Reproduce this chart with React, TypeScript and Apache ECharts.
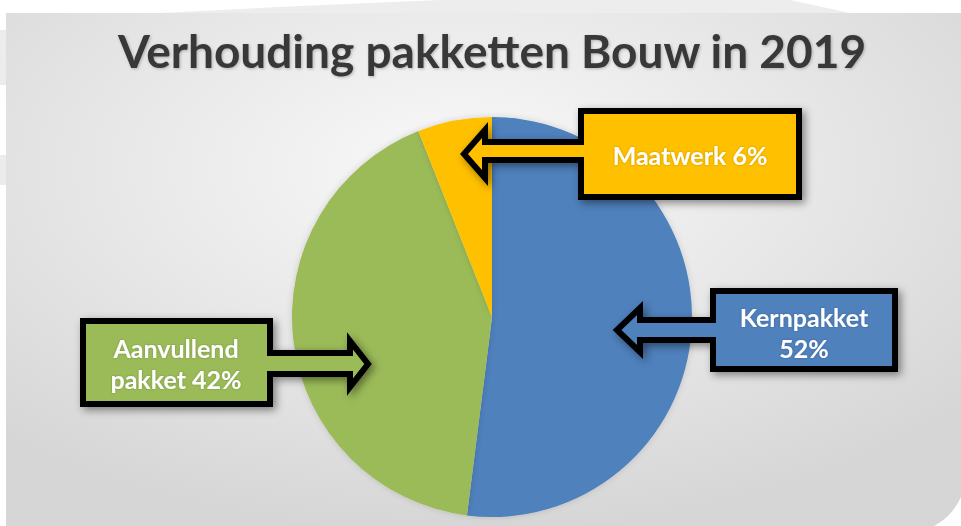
import React, { useEffect, useRef } from "react";
import * as echarts from "echarts";

const TITLE = "Verhouding pakketten Bouw in 2019";
const categories = ["Kernpakket", "Aanvullend pakket", "Maatwerk"];
const values = [52, 42, 6];
const colors = ["#4f81bd", "#9bbb59", "#ffc000"];
const calloutLines = [
  ["Kernpakket", "52%"],
  ["Aanvullend", "pakket 42%"],
  ["Maatwerk 6%"],
];

const FONT = "Lato, 'Open Sans', sans-serif";

export default function App() {
  const ref = useRef<HTMLDivElement>(null);
  useEffect(() => {
    if (!ref.current) return;
    const chart = echarts.init(ref.current, null, { renderer: "svg" });

    const shadow = {
      shadowBlur: 8,
      shadowColor: "rgba(0,0,0,0.45)",
      shadowOffsetX: 3,
      shadowOffsetY: 3,
    };

    const callouts = [
      {
        idx: 0,
        points: [[713, 291], [895, 291], [895, 369], [713, 369], [713, 340], [640, 340], [640, 352], [617, 330], [640, 308], [640, 320], [713, 320]],
        cx: 804, cy: 332,
      },
      {
        idx: 1,
        points: [[83, 321], [270, 321], [270, 353], [350, 353], [350, 341], [368, 364], [350, 387], [350, 374], [270, 374], [270, 404], [83, 404]],
        cx: 176, cy: 363,
      },
      {
        idx: 2,
        points: [[581, 111], [799, 111], [799, 197], [581, 197], [581, 160], [485, 160], [485, 178], [464, 154], [485, 130], [485, 142], [581, 142]],
        cx: 690, cy: 155,
      },
    ];

    const graphics: any[] = [
      {
        type: "rect",
        z: -10,
        silent: true,
        shape: { x: 6, y: 13, width: 960, height: 520, r: [0, 0, 60, 0] },
        style: {
          fill: new echarts.graphic.RadialGradient(0.47, 0.3, 0.7, [
            { offset: 0, color: "#f9f9f9" },
            { offset: 0.5, color: "#e8e8e8" },
            { offset: 1, color: "#d6d6d6" },
          ]),
        },
      },
      {
        type: "polygon",
        z: -10,
        silent: true,
        shape: { points: [[160, 13], [300, 6], [440, 0], [790, 0], [850, 13]] },
        style: { fill: "#ededed" },
      },
      { type: "rect", z: -10, silent: true, shape: { x: 0, y: 30, width: 6, height: 55 }, style: { fill: "#ececec" } },
      { type: "rect", z: -10, silent: true, shape: { x: 0, y: 155, width: 6, height: 30 }, style: { fill: "#ececec" } },
      {
        type: "text",
        x: 492,
        y: 50,
        z: 10,
        style: {
          text: TITLE,
          fill: "#383838",
          font: `bold 46px ${FONT}`,
          align: "center",
          verticalAlign: "middle",
          textShadowBlur: 3,
          textShadowColor: "rgba(0,0,0,0.25)",
          textShadowOffsetX: 1,
          textShadowOffsetY: 1,
        },
      },
    ];

    callouts.forEach((c) => {
      graphics.push({
        type: "polygon",
        z: 20,
        shape: { points: c.points },
        style: { fill: colors[c.idx], stroke: "#000", lineWidth: 6, lineJoin: "miter", ...shadow },
      });
      graphics.push({
        type: "text",
        x: c.cx,
        y: c.cy,
        z: 21,
        style: {
          text: calloutLines[c.idx].join("\n"),
          fill: "#ffffff",
          font: `bold 25px ${FONT}`,
          lineHeight: 31,
          align: "center",
          verticalAlign: "middle",
          textShadowBlur: 2,
          textShadowColor: "rgba(0,0,0,0.25)",
        },
      });
    });

    chart.setOption({
      animation: false,
      backgroundColor: "#ffffff",
      series: [
        {
          type: "pie",
          center: [492, 317],
          radius: 200,
          startAngle: 90,
          clockwise: true,
          label: { show: false },
          labelLine: { show: false },
          silent: true,
          itemStyle: { borderWidth: 0, shadowBlur: 6, shadowColor: "rgba(0,0,0,0.15)" },
          data: categories.map((name, i) => ({
            name,
            value: values[i],
            itemStyle: { color: colors[i] },
          })),
        },
      ],
      graphic: graphics,
    });
    return () => chart.dispose();
  }, []);
  return <div ref={ref} style={{ width: 961, height: 526, position: "absolute", left: 0, top: 0 }} />;
}
